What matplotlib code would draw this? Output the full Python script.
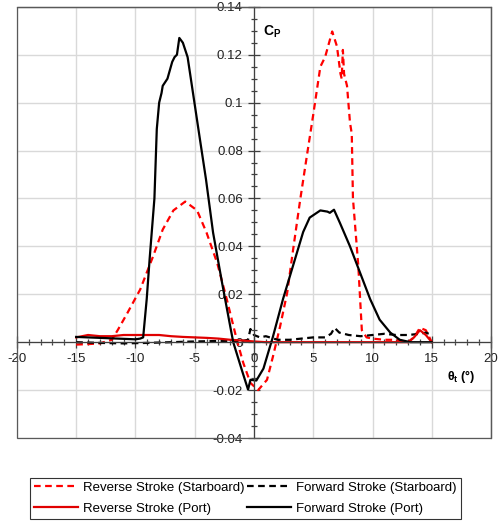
import numpy as np
import matplotlib
matplotlib.use('Agg')
import matplotlib.pyplot as plt
from matplotlib.ticker import MultipleLocator, FuncFormatter
from matplotlib.patches import Rectangle

plt.rcParams['font.family'] = ['Liberation Sans', 'DejaVu Sans']
plt.rcParams['axes.unicode_minus'] = False
plt.rcParams['mathtext.fontset'] = 'custom'
plt.rcParams['mathtext.rm'] = 'Liberation Sans'
plt.rcParams['mathtext.it'] = 'Liberation Sans:italic'
plt.rcParams['mathtext.bf'] = 'Liberation Sans:bold'

# ---- data ----
rev_stbd_x = [-15, -14, -13, -12, -11.5, -10.7, -9.6, -8.5, -7.7, -6.8, -5.8, -4.8, -4.0, -3.1,
              -2.3, -1.45, -0.9, -0.3, 0.35, 1.1, 1.6, 2.2, 2.8, 3.3, 3.9, 4.5, 5.0, 5.6, 6.0,
              6.6, 7.0, 7.3, 7.4, 7.5, 7.6, 7.85, 8.1, 8.25, 8.35, 8.8, 9.1, 9.5, 10, 11, 12,
              13, 13.5, 14, 14.5, 15]
rev_stbd_y = [-0.001, -0.0008, -0.0005, 0.001, 0.005, 0.012, 0.022, 0.036, 0.047, 0.055, 0.0587,
              0.055, 0.0457, 0.033, 0.018, 0.001, -0.0087, -0.017, -0.020, -0.0157, -0.006,
              0.0065, 0.0206, 0.0386, 0.0595, 0.079, 0.095, 0.115, 0.119, 0.1297, 0.1235,
              0.112, 0.110, 0.122, 0.112, 0.107, 0.0917, 0.087, 0.060, 0.032, 0.005, 0.002,
              0.0015, 0.001, 0.001, 0.0, 0.002, 0.006, 0.005, 0.0]

fwd_stbd_x = [-15, -13, -11, -9, -7, -5, -3, -1, -0.5, -0.3, 0, 0.5, 1, 2, 3, 4, 5, 6, 6.5,
              6.8, 7.2, 8, 9, 10, 11, 12, 13, 14, 14.5, 15]
fwd_stbd_y = [0.0, -0.0003, -0.0005, -0.0003, 0.0, 0.0003, 0.0005, 0.0005, 0.001, 0.0055,
              0.003, 0.002, 0.0025, 0.001, 0.001, 0.0015, 0.002, 0.002, 0.0035, 0.006, 0.004,
              0.003, 0.0025, 0.003, 0.0035, 0.003, 0.003, 0.0035, 0.004, 0.003]

rev_port_x = [-15, -14, -13, -12, -11, -10, -9, -8, -7, -6, -5, -4, -3, -2, -1, 0, 1, 2, 4,
              6, 8, 10, 12, 13, 13.5, 14, 14.5, 15]
rev_port_y = [0.002, 0.003, 0.0025, 0.0025, 0.003, 0.003, 0.003, 0.003, 0.0025, 0.0022,
              0.002, 0.0018, 0.0015, 0.001, 0.0007, 0.0003, 0.0, 0.0, 0.0, 0.0, 0.0, 0.0,
              0.0, 0.0, 0.002, 0.005, 0.003, 0.0]

fwd_port_x = [-15, -14, -13, -12, -11, -10, -9.6, -9.35, -9.05, -8.8, -8.4, -8.2, -8.0, -7.8,
              -7.7, -7.3, -6.9, -6.7, -6.5, -6.3, -6.0, -5.6, -5.1, -4.6, -4.05, -3.7, -3.45,
              -2.7, -2.0, -1.75, -1.0, -0.5, -0.3, 0.2, 0.8, 1.1, 1.6, 2.45, 3.3, 4.15, 4.7,
              5.6, 6.2, 6.4, 6.75, 7.25, 8.1, 8.95, 9.8, 10.6, 11.5, 12.3, 13.2, 14, 15]
fwd_port_y = [0.0022, 0.002, 0.0018, 0.0016, 0.0014, 0.0012, 0.0015, 0.002, 0.018, 0.035,
              0.060, 0.089, 0.100, 0.104, 0.107, 0.110, 0.117, 0.119, 0.120, 0.127, 0.125,
              0.119, 0.1025, 0.086, 0.068, 0.055, 0.0457, 0.025, 0.0065, 0.0, -0.012,
              -0.0198, -0.0157, -0.016, -0.011, -0.006, 0.0023, 0.018, 0.032, 0.046, 0.052,
              0.055, 0.0545, 0.054, 0.0553, 0.0498, 0.040, 0.029, 0.018, 0.0094, 0.004,
              0.001, 0.0, 0.0, 0.0]

labels = ['Reverse Stroke (Starboard)', 'Forward Stroke (Starboard)',
          'Reverse Stroke (Port)', 'Forward Stroke (Port)']

fig = plt.figure(figsize=(4.98, 5.23), dpi=100)
ax = fig.add_axes([0.034, 0.1625, 0.952, 0.8245])

dash = (0, (3.0, 2.0))
l1, = ax.plot(rev_stbd_x, rev_stbd_y, color='#ff0000', lw=1.6, ls=dash)
l2, = ax.plot(fwd_stbd_x, fwd_stbd_y, color='black', lw=1.6, ls=dash)
l3, = ax.plot(rev_port_x, rev_port_y, color='#e00000', lw=1.6)
l4, = ax.plot(fwd_port_x, fwd_port_y, color='black', lw=1.6)

ax.set_xlim(-20, 20)
ax.set_ylim(-0.04, 0.14)
ax.xaxis.set_major_locator(MultipleLocator(5))
ax.xaxis.set_minor_locator(MultipleLocator(1))
ax.yaxis.set_major_locator(MultipleLocator(0.02))
ax.yaxis.set_minor_locator(MultipleLocator(0.005))
fmt = FuncFormatter(lambda v, p: '%g' % round(v, 4))
ax.xaxis.set_major_formatter(fmt)
ax.yaxis.set_major_formatter(fmt)

ax.grid(True, which='major', color='#d9d9d9', lw=1.0)
ax.set_axisbelow(True)

for s in ['left', 'bottom']:
    ax.spines[s].set_position('zero')
    ax.spines[s].set_color('#404040')
    ax.spines[s].set_linewidth(0.9)
for s in ['top', 'right']:
    ax.spines[s].set_color('#595959')
    ax.spines[s].set_linewidth(0.9)
ax.add_patch(Rectangle((0, 0), 1, 1, transform=ax.transAxes, fill=False,
                       edgecolor='#595959', lw=0.9, clip_on=False, zorder=5))

ax.tick_params(which='both', direction='inout', color='#404040', labelsize=9.5,
               labelcolor='#222222')
ax.tick_params(which='major', length=8, width=0.9)
ax.tick_params(which='minor', length=5, width=0.9)
ax.tick_params(axis='y', pad=4)
ax.tick_params(axis='x', pad=4)

ax.text(0.8, 0.1295, r'$\mathbf{C_P}$', fontsize=10, ha='left', va='center')
ax.text(16.3, -0.0145, r'$\mathbf{\theta_t}$ (°)', fontsize=9, ha='left', va='center',
        fontweight='bold')

# column-wise fill: first column reverse, second column forward
leg = fig.legend([l1, l3, l2, l4], [labels[0], labels[2], labels[1], labels[3]], ncol=2,
                 loc='center', bbox_to_anchor=(0.493, 0.0475), fontsize=9.5, frameon=True,
                 fancybox=False, edgecolor='black', handlelength=3.3, handletextpad=0.4,
                 columnspacing=0.2, borderpad=0.3, labelspacing=0.65)
leg.get_frame().set_linewidth(0.8)

fig.savefig('out.png', dpi=100)
